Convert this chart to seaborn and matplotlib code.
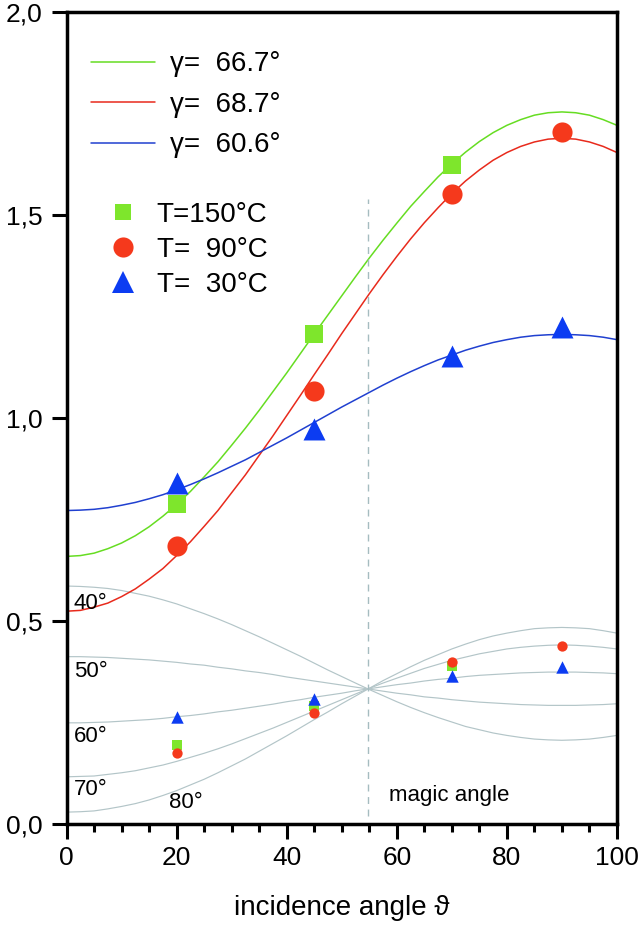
import pandas as pd
import matplotlib.pyplot as plt
import seaborn as sns
from matplotlib.lines import Line2D
from matplotlib.ticker import MultipleLocator

# incidence angle grid (deg)
theta = [0, 2.5, 5, 7.5, 10, 12.5, 15, 17.5, 20, 22.5, 25, 27.5, 30, 32.5, 35, 37.5, 40,
         42.5, 45, 47.5, 50, 52.5, 55, 57.5, 60, 62.5, 65, 67.5, 70, 72.5, 75, 77.5, 80,
         82.5, 85, 87.5, 90, 92.5, 95, 97.5, 100]

# fitted curves (upper part)
fit_667 = [0.660, 0.662, 0.668, 0.679, 0.693, 0.711, 0.733, 0.759, 0.788, 0.820, 0.856,
           0.893, 0.934, 0.976, 1.020, 1.066, 1.112, 1.160, 1.208, 1.255, 1.302, 1.349,
           1.395, 1.439, 1.481, 1.522, 1.559, 1.595, 1.627, 1.656, 1.682, 1.704, 1.722,
           1.736, 1.747, 1.753, 1.755, 1.753, 1.747, 1.736, 1.722]
fit_687 = [0.525, 0.527, 0.535, 0.545, 0.561, 0.580, 0.604, 0.630, 0.662, 0.696, 0.734,
           0.773, 0.817, 0.861, 0.909, 0.957, 1.007, 1.057, 1.108, 1.158, 1.209, 1.258,
           1.307, 1.354, 1.399, 1.442, 1.482, 1.519, 1.554, 1.585, 1.612, 1.636, 1.655,
           1.670, 1.681, 1.688, 1.690, 1.688, 1.681, 1.670, 1.655]
fit_606 = [0.773, 0.774, 0.776, 0.780, 0.786, 0.793, 0.802, 0.812, 0.824, 0.837, 0.851,
           0.866, 0.882, 0.898, 0.916, 0.934, 0.952, 0.971, 0.990, 1.009, 1.028, 1.046,
           1.064, 1.082, 1.099, 1.115, 1.130, 1.144, 1.156, 1.168, 1.178, 1.187, 1.194,
           1.200, 1.204, 1.206, 1.207, 1.206, 1.204, 1.200, 1.194]

# reference curves for fixed tilt angles (lower part)
ref_40 = [0.587, 0.586, 0.584, 0.581, 0.576, 0.569, 0.562, 0.553, 0.543, 0.531, 0.519,
          0.506, 0.492, 0.477, 0.462, 0.446, 0.430, 0.414, 0.397, 0.380, 0.364, 0.348,
          0.332, 0.317, 0.302, 0.288, 0.275, 0.263, 0.252, 0.241, 0.233, 0.225, 0.219,
          0.214, 0.210, 0.208, 0.207, 0.208, 0.210, 0.214, 0.219]
ref_50 = [0.413, 0.413, 0.412, 0.411, 0.409, 0.407, 0.405, 0.402, 0.399, 0.395, 0.392,
          0.387, 0.383, 0.378, 0.374, 0.369, 0.363, 0.358, 0.353, 0.348, 0.343, 0.338,
          0.333, 0.328, 0.323, 0.319, 0.314, 0.311, 0.307, 0.304, 0.301, 0.299, 0.297,
          0.295, 0.294, 0.293, 0.293, 0.293, 0.294, 0.295, 0.297]
ref_60 = [0.250, 0.250, 0.251, 0.252, 0.254, 0.256, 0.258, 0.261, 0.265, 0.268, 0.272,
          0.277, 0.281, 0.286, 0.291, 0.296, 0.302, 0.307, 0.313, 0.318, 0.323, 0.329,
          0.334, 0.339, 0.344, 0.348, 0.353, 0.357, 0.360, 0.364, 0.367, 0.369, 0.371,
          0.373, 0.374, 0.375, 0.375, 0.375, 0.374, 0.373, 0.371]
ref_70 = [0.117, 0.118, 0.119, 0.123, 0.127, 0.132, 0.139, 0.146, 0.155, 0.165, 0.175,
          0.186, 0.198, 0.211, 0.224, 0.237, 0.251, 0.265, 0.279, 0.293, 0.307, 0.321,
          0.335, 0.348, 0.360, 0.372, 0.384, 0.394, 0.404, 0.412, 0.420, 0.426, 0.432,
          0.436, 0.439, 0.441, 0.442, 0.441, 0.439, 0.436, 0.432]
ref_80 = [0.030, 0.031, 0.033, 0.038, 0.044, 0.051, 0.060, 0.071, 0.083, 0.097, 0.111,
          0.127, 0.144, 0.161, 0.180, 0.199, 0.218, 0.238, 0.258, 0.277, 0.297, 0.316,
          0.335, 0.354, 0.371, 0.388, 0.404, 0.418, 0.432, 0.444, 0.455, 0.464, 0.471,
          0.477, 0.482, 0.484, 0.485, 0.484, 0.482, 0.477, 0.471]
ref_labels = ["40°", "50°", "60°", "70°", "80°"]

# measured points
angles = [20, 45, 70, 90]
t150_hi = [0.789, 1.207, 1.625]
t90_hi = [0.685, 1.068, 1.553, 1.705]
t30_hi = [0.840, 0.974, 1.154, 1.225]
t150_lo = [0.195, 0.291, 0.390]
t90_lo = [0.176, 0.275, 0.400, 0.439]
t30_lo = [0.265, 0.308, 0.365, 0.387]

magic_angle = 54.7
fit_labels = ["γ=  66.7°", "γ=  68.7°", "γ=  60.6°"]
temp_labels = ["T=150°C", "T=  90°C", "T=  30°C"]
y_ticks = [0.0, 0.5, 1.0, 1.5, 2.0]
y_ticklabels = ["0,0", "0,5", "1,0", "1,5", "2,0"]

GREEN, RED, BLUE = "#7ee62c", "#f5391c", "#0c3cf2"
GREEN_L, RED_L, BLUE_L = "#66dd22", "#e82a1c", "#2040d0"
GREY = "#b3c5c8"

sns.set_style("white")
plt.rcParams["font.family"] = ["Liberation Sans", "DejaVu Sans"]
for key in ["text.color", "axes.labelcolor", "xtick.color", "ytick.color"]:
    plt.rcParams[key] = "black"

fig = plt.figure(figsize=(6.4, 9.31), dpi=100)
ax = fig.add_axes([0.104, 0.1146, 0.860, 0.872])

for ref in [ref_40, ref_50, ref_60, ref_70, ref_80]:
    sns.lineplot(x=theta, y=ref, color=GREY, lw=0.85, ax=ax)

for vals, col in zip([fit_667, fit_687, fit_606], [GREEN_L, RED_L, BLUE_L]):
    sns.lineplot(x=theta, y=vals, color=col, lw=1.1, ax=ax)

ax.vlines(magic_angle, 0.02, 1.54, color="#a5bcc0", lw=1.0, linestyles=(0, (5, 4)))

# big markers (upper) and small markers (lower)
sns.scatterplot(x=angles[:3], y=t150_hi, marker="s", s=150, color=GREEN, linewidth=0, ax=ax, zorder=3)
sns.scatterplot(x=angles, y=t90_hi, marker="o", s=210, color=RED, linewidth=0, ax=ax, zorder=3)
sns.scatterplot(x=angles, y=t30_hi, marker="^", s=250, color=BLUE, linewidth=0, ax=ax, zorder=3)
sns.scatterplot(x=angles[:3], y=t150_lo, marker="s", s=42, color=GREEN, linewidth=0, ax=ax, zorder=3)
sns.scatterplot(x=angles, y=t90_lo, marker="o", s=55, color=RED, linewidth=0, ax=ax, zorder=3)
sns.scatterplot(x=angles, y=t30_lo, marker="^", s=80, color=BLUE, linewidth=0, ax=ax, zorder=3)

for lab, (tx, ty) in zip(ref_labels, [(1.2, 0.545), (1.3, 0.376), (1.3, 0.217), (1.3, 0.085), (18.7, 0.053)]):
    ax.text(tx, ty, lab, fontsize=16, ha="left", va="center")
ax.text(58.5, 0.07, "magic angle", fontsize=16, ha="left", va="center")

ax.set_xlim(0, 100)
ax.set_ylim(0, 2.0)
ax.xaxis.set_major_locator(MultipleLocator(20))
ax.xaxis.set_minor_locator(MultipleLocator(5))
ax.set_yticks(y_ticks)
ax.set_yticklabels(y_ticklabels)
ax.tick_params(axis="both", which="major", direction="out", length=10.5, width=2.2,
               labelsize=19, bottom=True, left=True, top=False, right=False)
ax.tick_params(axis="x", which="minor", direction="out", length=6, width=2.2, bottom=True)
ax.tick_params(axis="x", which="major", pad=5)
ax.tick_params(axis="y", which="major", pad=7)
for sp in ax.spines.values():
    sp.set_linewidth(2.5)
    sp.set_color("black")

ax.set_xlabel("incidence angle ϑ", fontsize=20, labelpad=18)
ax.set_ylabel("")

line_handles = [Line2D([], [], color=c, lw=1.1) for c in [GREEN_L, RED_L, BLUE_L]]
leg1 = ax.legend(line_handles, fit_labels, loc="upper left", bbox_to_anchor=(0.045, 0.952),
                 frameon=False, fontsize=20, handlelength=2.3, handletextpad=0.55,
                 labelspacing=0.52, borderpad=0, borderaxespad=0)
ax.add_artist(leg1)

marker_handles = [
    Line2D([], [], ls="", marker="s", ms=12, color=GREEN, mew=0),
    Line2D([], [], ls="", marker="o", ms=14.5, color=RED, mew=0),
    Line2D([], [], ls="", marker="^", ms=15.8, color=BLUE, mew=0),
]
ax.legend(marker_handles, temp_labels, loc="upper left", bbox_to_anchor=(0.065, 0.767),
          frameon=False, fontsize=20, handlelength=1.5, handletextpad=0.45,
          labelspacing=0.33, borderpad=0, borderaxespad=0, numpoints=1)

fig.savefig("out.png", dpi=100)
